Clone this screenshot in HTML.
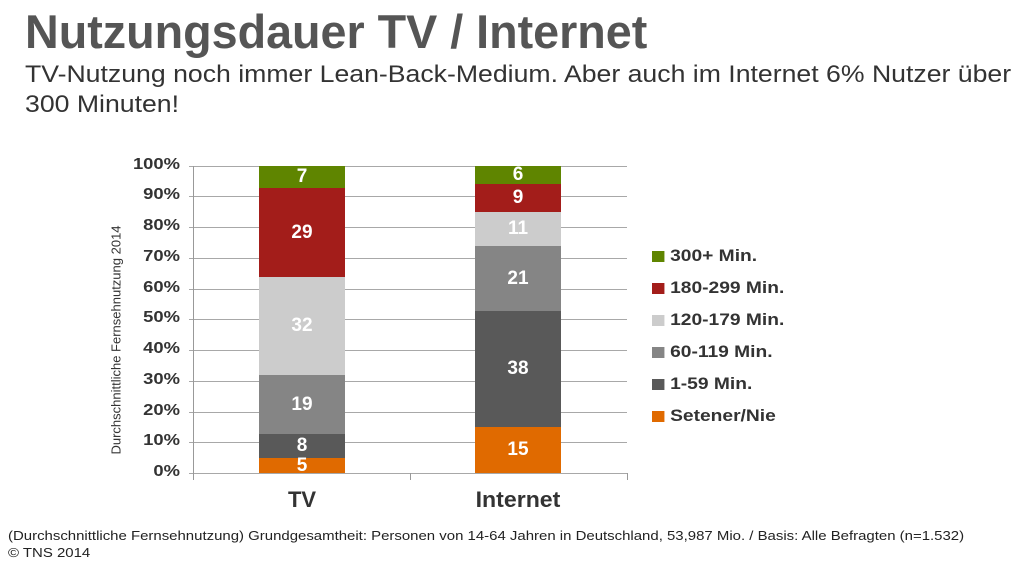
<!DOCTYPE html>
<html><head><meta charset="utf-8"><style>
body{margin:0;width:1021px;height:573px;background:#fff;position:relative;overflow:hidden;font-family:"Liberation Sans",Arial,sans-serif;color:#333}
.a{position:absolute;white-space:nowrap}
.g{position:absolute;left:189px;width:438px;height:1px;background:#a8a8a8}
.yl{position:absolute;left:100px;width:80px;text-align:right;font-weight:bold;font-size:16px;color:#333;transform:scaleX(1.15);transform-origin:right}
.s{position:absolute;color:#fff;font-weight:bold;font-size:19px;text-align:center;display:flex;align-items:center;justify-content:center}
.lg{position:absolute;left:652px;font-weight:bold;font-size:17px;color:#333;transform:scaleX(1.13);transform-origin:left;white-space:nowrap}
.lg i{display:inline-block;width:11px;height:11px;margin-right:5px;vertical-align:-1px}
</style></head><body>
<div class="a" style="left:25px;top:4px;font-size:47px;font-weight:bold;color:#555;transform:scaleX(0.993);transform-origin:left">Nutzungsdauer TV / Internet</div>
<div class="a" style="left:25px;top:60px;font-size:24px;color:#333;line-height:30px;transform:scaleX(1.11);transform-origin:left">TV-Nutzung noch immer Lean-Back-Medium. Aber auch im Internet 6% Nutzer über<br>300 Minuten!</div>

<div class="g" style="top:166px"></div><div class="g" style="top:196px"></div><div class="g" style="top:227px"></div><div class="g" style="top:258px"></div><div class="g" style="top:289px"></div><div class="g" style="top:319px"></div><div class="g" style="top:350px"></div><div class="g" style="top:381px"></div><div class="g" style="top:412px"></div><div class="g" style="top:442px"></div><div class="g" style="top:473px"></div>
<div class="a" style="left:193px;top:166px;width:1px;height:314px;background:#999"></div>
<div class="a" style="left:410px;top:473px;width:1px;height:7px;background:#999"></div>
<div class="a" style="left:627px;top:473px;width:1px;height:7px;background:#999"></div>

<div class="yl" style="top:156px">100%</div><div class="yl" style="top:186px">90%</div><div class="yl" style="top:217px">80%</div><div class="yl" style="top:248px">70%</div><div class="yl" style="top:279px">60%</div><div class="yl" style="top:309px">50%</div><div class="yl" style="top:340px">40%</div><div class="yl" style="top:371px">30%</div><div class="yl" style="top:402px">20%</div><div class="yl" style="top:432px">10%</div><div class="yl" style="top:463px">0%</div>

<div class="a" style="left:116px;top:340px;transform:translate(-50%,-50%) rotate(-90deg);font-size:13px;color:#333;white-space:nowrap">Durchschnittliche Fernsehnutzung 2014</div>

<div class="s" style="left:259px;width:86px;top:166px;height:22px;background:#5f8500">7</div>
<div class="s" style="left:259px;width:86px;top:188px;height:89px;background:#a31d1a">29</div>
<div class="s" style="left:259px;width:86px;top:277px;height:98px;background:#cccccc">32</div>
<div class="s" style="left:259px;width:86px;top:375px;height:59px;background:#858585">19</div>
<div class="s" style="left:259px;width:86px;top:434px;height:24px;background:#595959">8</div>
<div class="s" style="left:259px;width:86px;top:458px;height:15px;background:#e06a00">5</div>
<div class="s" style="left:475px;width:86px;top:166px;height:18px;background:#5f8500">6</div>
<div class="s" style="left:475px;width:86px;top:184px;height:28px;background:#a31d1a">9</div>
<div class="s" style="left:475px;width:86px;top:212px;height:34px;background:#cccccc">11</div>
<div class="s" style="left:475px;width:86px;top:246px;height:65px;background:#858585">21</div>
<div class="s" style="left:475px;width:86px;top:311px;height:116px;background:#595959">38</div>
<div class="s" style="left:475px;width:86px;top:427px;height:46px;background:#e06a00">15</div>

<div class="a" style="left:259px;width:86px;top:487px;text-align:center;font-weight:bold;font-size:22px;color:#333">TV</div>
<div class="a" style="left:448px;width:140px;top:487px;text-align:center;font-weight:bold;font-size:22px;color:#333;transform:scaleX(1.05)">Internet</div>

<div class="lg" style="top:246px"><i style="background:#5f8500"></i>300+ Min.</div>
<div class="lg" style="top:278px"><i style="background:#a31d1a"></i>180-299 Min.</div>
<div class="lg" style="top:310px"><i style="background:#cccccc"></i>120-179 Min.</div>
<div class="lg" style="top:342px"><i style="background:#858585"></i>60-119 Min.</div>
<div class="lg" style="top:374px"><i style="background:#595959"></i>1-59 Min.</div>
<div class="lg" style="top:406px"><i style="background:#e06a00"></i>Setener/Nie</div>

<div class="a" style="left:8px;top:527px;font-size:13px;color:#222;line-height:17px;transform:scaleX(1.15);transform-origin:left">(Durchschnittliche Fernsehnutzung) Grundgesamtheit: Personen von 14-64 Jahren in Deutschland, 53,987 Mio. / Basis: Alle Befragten (n=1.532)<br>© TNS 2014</div>
</body></html>
